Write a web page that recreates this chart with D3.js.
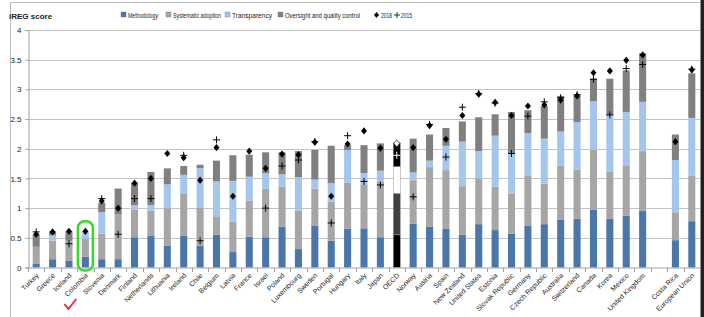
<!DOCTYPE html>
<html>
<head>
<meta charset="utf-8">
<script src="https://cdn.jsdelivr.net/npm/d3@7"></script>
<style>
  body { margin: 0; background: #fff; }
  svg { display: block; font-family: "Liberation Sans Narrow", "Arial Narrow", "Liberation Sans", Arial, sans-serif; }
</style>
</head>
<body>
<div class="chart"></div>
<script>
// countries in chart order (gap before Costa Rica)
const countries = ["Turkey", "Greece", "Iceland", "Colombia", "Slovenia", "Denmark", "Finland", "Netherlands",
    "Lithuania", "Ireland", "Chile", "Belgium", "Latvia", "France", "Israel", "Poland", "Luxembourg", "Sweden",
    "Portugal", "Hungary", "Italy", "Japan", "OECD", "Norway", "Austria", "Spain", "New Zealand", "United States",
    "Estonia", "Slovak Republic", "Germany", "Czech Republic", "Australia", "Switzerland", "Canada", "Korea",
    "Mexico", "United Kingdom", "Costa Rica", "European Union"];

const methodology = [0.06, 0.14, 0.11, 0.18, 0.14, 0.14, 0.51, 0.53, 0.37, 0.53, 0.37, 0.55, 0.26, 0.52, 0.51, 0.69,
    0.31, 0.70, 0.45, 0.65, 0.66, 0.51, 0.55, 0.74, 0.69, 0.65, 0.55, 0.73, 0.63, 0.57, 0.70, 0.73, 0.81, 0.82,
    0.97, 0.82, 0.87, 0.96, 0.46, 0.78];
const systematic = [0.29, 0.31, 0.34, 0.30, 0.43, 0.76, 0.46, 0.43, 0.63, 0.72, 0.63, 0.30, 0.51, 0.61, 0.82, 0.67,
    0.65, 0.63, 0.66, 0.78, 0.73, 0.94, 0.70, 0.73, 1.00, 0.99, 0.82, 0.77, 0.73, 0.67, 0.85, 0.68, 0.90, 0.83,
    1.01, 0.80, 0.84, 1.00, 0.47, 0.77];
const transparency = [0.00, 0.09, 0.00, 0.13, 0.36, 0.00, 0.08, 0.09, 0.40, 0.31, 0.67, 0.60, 0.69, 0.40, 0.26, 0.21,
    0.56, 0.15, 0.31, 0.55, 0.20, 0.18, 0.45, 0.13, 0.11, 0.41, 0.75, 0.46, 0.86, 0.68, 0.71, 0.76, 0.58, 0.80,
    0.82, 0.95, 0.91, 0.83, 0.88, 0.97];
const oversight = [0.21, 0.07, 0.16, 0.00, 0.16, 0.43, 0.38, 0.56, 0.27, 0.15, 0.06, 0.35, 0.43, 0.37, 0.35, 0.37,
    0.44, 0.50, 0.63, 0.08, 0.47, 0.46, 0.40, 0.57, 0.44, 0.30, 0.34, 0.57, 0.36, 0.70, 0.39, 0.55, 0.60, 0.45,
    0.38, 0.61, 0.70, 0.82, 0.43, 0.75];
const score2018 = [0.56, 0.60, 0.61, 0.61, 1.12, 1.00, 1.42, 1.50, 1.92, 1.85, 1.47, 2.02, 1.20, 1.96, 1.67, 1.91,
    1.90, 2.11, 1.20, 2.08, 2.30, 2.01, 2.09, 2.02, 2.39, 2.16, 2.56, 2.92, 2.78, 2.56, 2.72, 2.74, 2.82, 2.89,
    3.28, 3.31, 3.49, 3.58, 2.12, 3.33];
const score2015 = [0.60, null, 0.40, null, 1.16, 0.56, 1.16, 1.16, null, 1.89, 0.45, 2.15, null, null, 1.00, 1.71,
    1.81, 2.12, 0.75, 2.22, 1.45, 1.39, 1.89, 1.19, 2.41, 1.86, 2.70, 2.93, 2.77, 1.92, 2.55, 2.79, 2.86, 2.91,
    3.17, 2.57, 3.35, 3.42, null, 3.34];
const yTicks = [0, 0.5, 1, 1.5, 2, 2.5, 3, 3.5, 4];

const keys = ["Methodology", "Systematic adoption", "Transparency", "Oversight and quality control"];
const colors = ["#4a76aa", "#a6a6a6", "#a4c6ec", "#808080"];
const oecdColors = ["#000000", "#404040", "#ffffff", "#000000"];

const W = 704, H = 317;
const margin = { left: 28, right: 4, top: 30, bottom: 49.5 };

const rows = countries.map((c, i) => ({
    country: c,
    "Methodology": methodology[i],
    "Systematic adoption": systematic[i],
    "Transparency": transparency[i],
    "Oversight and quality control": oversight[i],
    s2018: score2018[i],
    s2015: score2015[i]
}));

const slots = countries.slice(0, 38).concat(["_gap"], countries.slice(38));

const svg = d3.select(".chart").append("svg")
    .attr("width", W).attr("height", H);

// outer frame
svg.append("line").attr("x1", 10.5).attr("x2", 10.5).attr("y1", 2.5).attr("y2", H).attr("stroke", "#bdbdbd");
svg.append("line").attr("x1", 10.5).attr("x2", 700).attr("y1", 2.5).attr("y2", 2.5).attr("stroke", "#bdbdbd");
svg.append("rect").attr("x", 700.5).attr("y", 0).attr("width", 3.5).attr("height", H).attr("fill", "#222");

const x = d3.scaleBand().domain(slots).range([margin.left, W - margin.right])
    .paddingInner(0.57).paddingOuter(0.285);
const y = d3.scaleLinear().domain([0, 4]).range([H - margin.bottom, margin.top]);

// gridlines
svg.append("g").selectAll("line").data(yTicks.slice(1)).join("line")
    .attr("x1", margin.left).attr("x2", W - margin.right)
    .attr("y1", d => Math.round(y(d)) + 0.5).attr("y2", d => Math.round(y(d)) + 0.5)
    .attr("stroke", "#c4c4c4").attr("stroke-width", 1);

// y axis
const yAxis = svg.append("g").attr("transform", `translate(${margin.left + 0.5},0)`)
    .call(d3.axisLeft(y).tickValues(yTicks).tickSize(3).tickPadding(4).tickFormat(d => d));
yAxis.select(".domain").attr("stroke", "#a0a0a0");
yAxis.selectAll(".tick line").attr("stroke", "#a0a0a0");
yAxis.selectAll("text").attr("font-size", 8).attr("fill", "#222");

// stacked bars
const stack = d3.stack().keys(keys)(rows);
const barG = svg.append("g");
stack.forEach((layer, k) => {
    barG.append("g").selectAll("rect").data(layer).join("rect")
        .attr("x", d => x(d.data.country))
        .attr("width", x.bandwidth())
        .attr("y", d => y(d[1]))
        .attr("height", d => Math.max(0, y(d[0]) - y(d[1])))
        .attr("fill", d => d.data.country === "OECD" ? oecdColors[k] : colors[k])
        .attr("stroke", d => d.data.country === "OECD" ? "#999" : "none")
        .attr("stroke-width", 0.5);
});

// x axis
const xAxis = svg.append("g").attr("transform", `translate(0,${y(0) + 0.5})`);
xAxis.append("line").attr("x1", margin.left).attr("x2", W - margin.right).attr("stroke", "#a0a0a0");
xAxis.selectAll(".tk").data(slots).join("line").attr("class", "tk")
    .attr("x1", d => Math.round(x(d) - x.step() * x.paddingInner() / 2) + 0.5)
    .attr("x2", d => Math.round(x(d) - x.step() * x.paddingInner() / 2) + 0.5)
    .attr("y1", 0).attr("y2", 4).attr("stroke", "#a0a0a0");
xAxis.selectAll("text").data(countries).join("text")
    .attr("transform", d => `translate(${x(d) + x.bandwidth() / 2 + 3},8) rotate(-45)`)
    .attr("text-anchor", "end")
    .attr("font-size", 7)
    .attr("fill", "#222")
    .text(d => d);

// markers
const diamond = "M0,-3.6L3,0L0,3.6L-3,0Z";
svg.append("g").selectAll("path").data(rows).join("path")
    .attr("d", diamond)
    .attr("transform", d => `translate(${x(d.country) + x.bandwidth() / 2},${y(d.s2018)})`)
    .attr("fill", d => d.country === "OECD" ? "#fff" : "#000")
    .attr("stroke", d => d.country === "OECD" ? "#000" : "none")
    .attr("stroke-width", 0.6);
svg.append("g").selectAll("path").data(rows.filter(d => d.s2015 != null)).join("path")
    .attr("d", "M-3.5,0H3.5M0,-3.5V3.5")
    .attr("transform", d => `translate(${x(d.country) + x.bandwidth() / 2},${y(d.s2015)})`)
    .attr("fill", "none")
    .attr("stroke", d => d.country === "OECD" ? "#fff" : "#000")
    .attr("stroke-width", 1);

// highlight Colombia
const cx = x("Colombia") + x.bandwidth() / 2;
svg.append("rect")
    .attr("x", cx - 7.5).attr("y", y(0.78))
    .attr("width", 15).attr("height", y(0) - y(0.78) + 3)
    .attr("rx", 6.5)
    .attr("fill", "none").attr("stroke", "#33dd22").attr("stroke-width", 2.5);
svg.append("path")
    .attr("d", `M${cx - 21},${304} L${cx - 17},${309} L${cx - 9},${299}`)
    .attr("fill", "none").attr("stroke", "#e0303c").attr("stroke-width", 2);

// title + legend
svg.append("text").attr("x", 9).attr("y", 19).attr("font-size", 8).attr("font-weight", "bold")
    .attr("fill", "#222").text("iREG score");

const legend = [
    { label: "Methodology", type: "sq", color: colors[0], x: 121, w: 30 },
    { label: "Systematic adoption", type: "sq", color: colors[1], x: 166, w: 48 },
    { label: "Transparency", type: "sq", color: colors[2], x: 225, w: 40 },
    { label: "Oversight and quality control", type: "sq", color: colors[3], x: 278, w: 75 },
    { label: "2018", type: "dia", x: 374, w: 11 },
    { label: "2015", type: "plus", x: 394, w: 11 }
];
const lg = svg.append("g").selectAll("g").data(legend).join("g")
    .attr("transform", d => `translate(${d.x},15)`);
lg.filter(d => d.type === "sq").append("rect")
    .attr("x", 0).attr("y", -3).attr("width", 5).attr("height", 5)
    .attr("fill", d => d.color).attr("stroke", "#777").attr("stroke-width", 0.4);
lg.filter(d => d.type === "dia").append("path")
    .attr("d", "M2.5,-3L5,0L2.5,3L0,0Z").attr("fill", "#000");
lg.filter(d => d.type === "plus").append("path")
    .attr("d", "M0,0H6M3,-3V3").attr("stroke", "#000").attr("stroke-width", 0.8);
lg.append("text")
    .attr("x", 7).attr("y", 3)
    .attr("font-size", 6.8).attr("fill", "#222")
    .attr("textLength", d => d.w).attr("lengthAdjust", "spacingAndGlyphs")
    .text(d => d.label);
</script>
</body>
</html>
